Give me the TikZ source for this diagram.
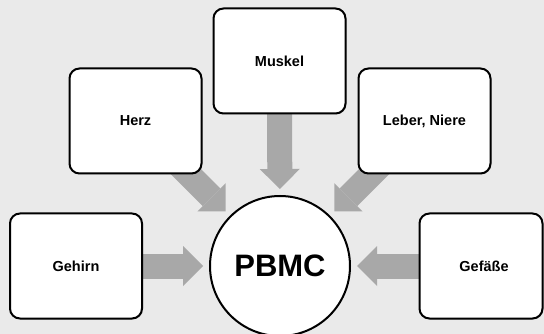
\documentclass[tikz,border=0pt]{standalone}
\usepackage{fontspec}
\setmainfont{Liberation Sans}
\usetikzlibrary{arrows.meta,shadows}
\pgfdeclarelayer{bg}
\pgfdeclarelayer{arr}
\pgfsetlayers{bg,arr,main}
\definecolor{bgcol}{RGB}{234,234,234}
\definecolor{arrcol}{RGB}{168,168,168}
\tikzset{
  organ/.style={draw=black, line width=2pt, fill=white, rounded corners=10pt,
    minimum width=132pt, minimum height=105pt, inner sep=0pt,
    font=\fontsize{14.5pt}{16pt}\selectfont\bfseries,
    drop shadow={shadow xshift=1pt, shadow yshift=-1pt, opacity=0.25}},
  hub/.style={circle, draw=black, line width=2pt, fill=white, minimum size=140pt,
    inner sep=0pt, outer sep=7pt, font=\fontsize{31pt}{34pt}\selectfont\bfseries},
  bigarrow/.style={draw=arrcol, line width=25pt,
    -{Triangle[length=20pt, width=40pt, line width=0pt, fill=arrcol]}}
}
\begin{document}
\begin{tikzpicture}[x=1pt, y=-1pt]
\begin{pgfonlayer}{bg}
  \fill[bgcol] (0,0) rectangle (544,334);
\end{pgfonlayer}
\useasboundingbox (0,0) rectangle (544,334);
\node[organ] (muskel) at (279.5,61) {Muskel};
\node[organ] (herz) at (135.5,121) {Herz};
\node[organ] (leber) at (424.5,121) {Leber, Niere};
\node[organ] (gehirn) at (76,266) {Gehirn};
\node[organ, minimum width=123pt] (gefaesse) at (481,266) {\hspace*{6pt}Gefäße};
\node[hub] (pbmc) at (280,266) {PBMC};
\begin{pgfonlayer}{arr}
  \draw[bigarrow] (muskel.center) -- (pbmc);
  \draw[bigarrow] (herz.center) -- (pbmc);
  \draw[bigarrow] (leber.center) -- (pbmc);
  \draw[bigarrow] (gehirn.center) -- (pbmc);
  \draw[bigarrow] (gefaesse.center) -- (pbmc);
\end{pgfonlayer}
\end{tikzpicture}
\end{document}
